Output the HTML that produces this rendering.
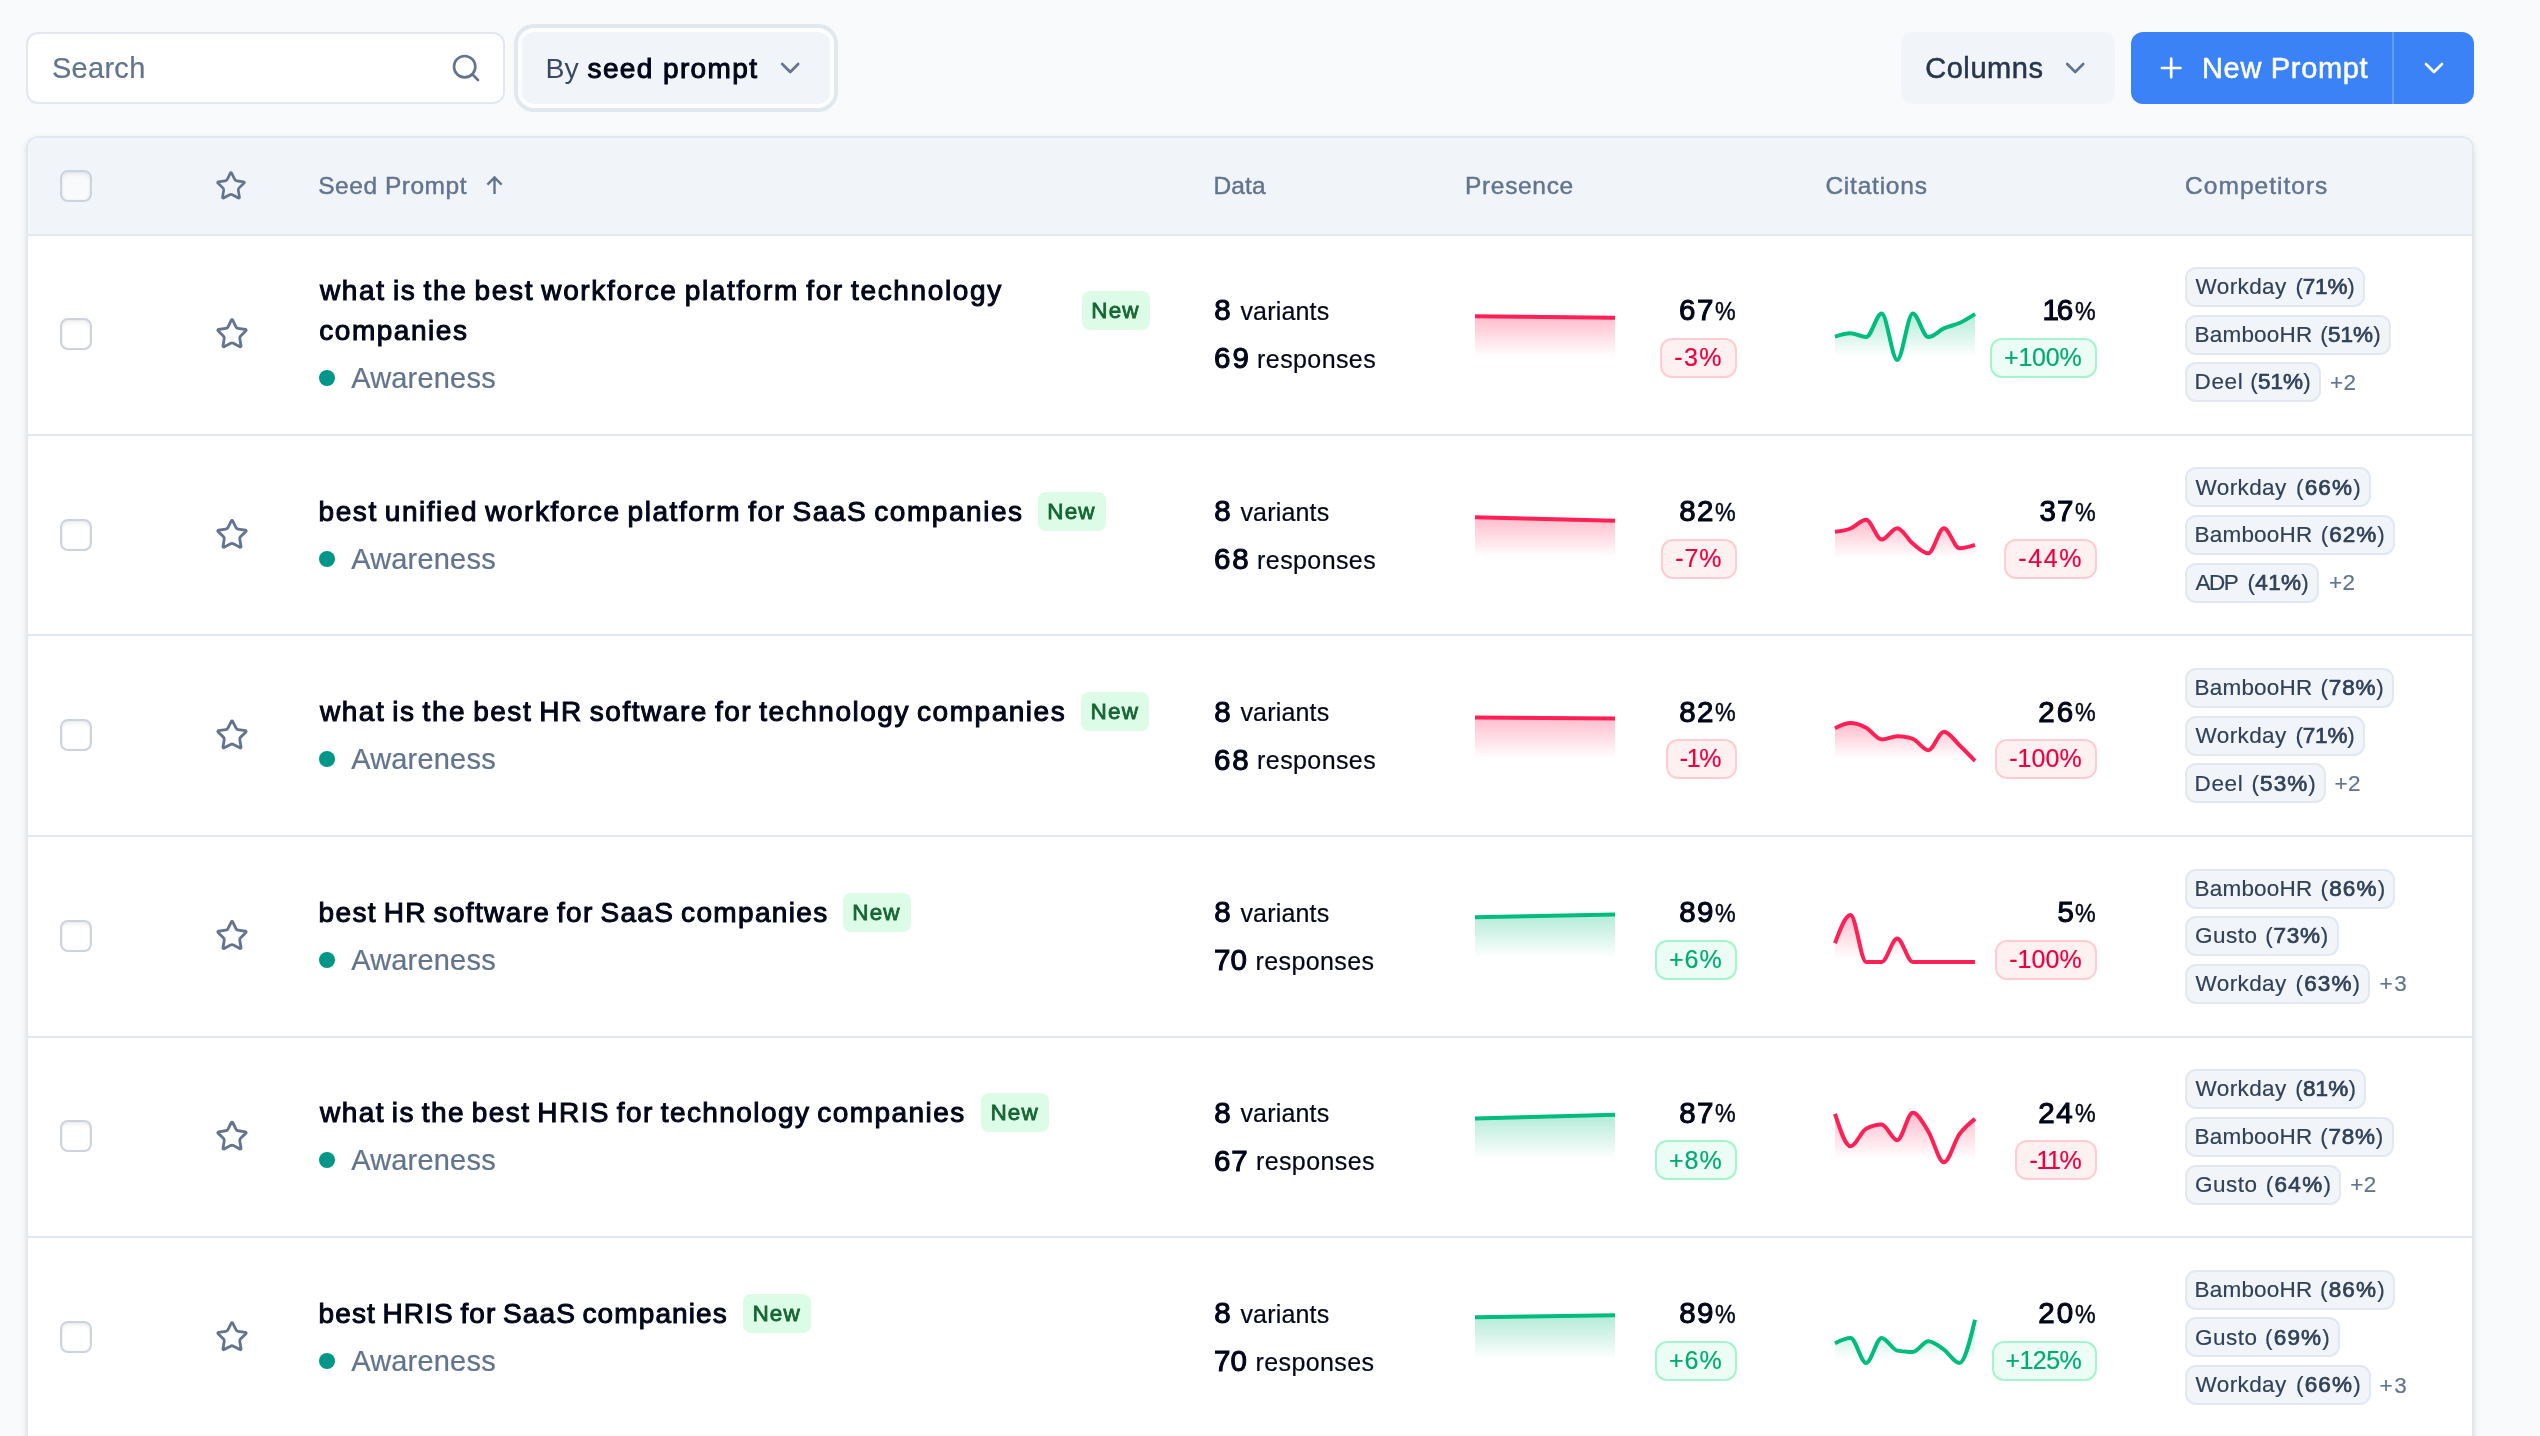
<!DOCTYPE html>
<html lang="en"><head><meta charset="utf-8"><title>Prompts</title>
<style>
html,body{margin:0;padding:0}
body{width:2540px;height:1436px;overflow:hidden;position:relative;background:#f8fafc;font-family:"Liberation Sans",sans-serif}
.t{position:absolute;white-space:nowrap;line-height:1;display:block}
.abs{position:absolute}
.box{position:absolute;box-sizing:border-box}
.cb{position:absolute;box-sizing:border-box;width:32px;height:32px;left:60px;border:2px solid #cdd3dc;border-radius:8px;background:#fff;box-shadow:inset 0 3px 4px -1px rgba(15,23,43,.08),inset 0 0 3px rgba(15,23,43,.05)}
.sep{position:absolute;left:28px;width:2444px;height:2px;background:#e2e8f0}
.new{position:absolute;box-sizing:border-box;width:68px;height:39px;border-radius:8px;background:#dcfce7}
.chip{position:absolute;box-sizing:border-box;left:2185px;height:40px;border:2px solid #e2e8f0;border-radius:11px;background:#f1f5f9}
.bd{position:absolute;box-sizing:border-box;height:40px;border-radius:12px;border:2px solid}
.bd.r{background:#fff1f2;border-color:#ffccd3}
.bd.g{background:#ecfdf5;border-color:#a4f4cf}
.dot{position:absolute;width:16px;height:16px;border-radius:50%;background:#009689;left:319px}
svg{position:absolute;left:0;top:0;overflow:visible}
#app{position:absolute;left:0;top:0;width:2540px;height:1436px;will-change:transform}
</style></head><body><div id="app">

<div class="box" style="left:26px;top:32px;width:479px;height:72px;border:2px solid #e2e8f0;border-radius:12px;background:#fff"></div>
<span class="t" style="left:51.98px;top:53.80px;font-size:29px;color:#62748e;letter-spacing:0.282px;-webkit-text-stroke:0.23px #62748e;">Search</span>
<div class="box" style="left:514px;top:24px;width:324px;height:88px;border-radius:20px;background:#e2e8f0"></div>
<div class="box" style="left:518px;top:28px;width:316px;height:80px;border-radius:16px;background:#fff"></div>
<div class="box" style="left:522px;top:32px;width:308px;height:72px;border-radius:12px;background:#f1f5f9"></div>
<span class="t" style="left:545.44px;top:54.05px;font-size:28.5px;color:#3b4a61;letter-spacing:0.120px;">By</span>
<span class="t" style="left:587.51px;top:54.80px;font-size:28px;color:#020618;letter-spacing:1.386px;-webkit-text-stroke:1.00px #020618;">seed prompt</span>
<div class="box" style="left:1901px;top:32px;width:214px;height:72px;border-radius:12px;background:#f1f5f9"></div>
<span class="t" style="left:1925.13px;top:53.80px;font-size:29px;color:#27364b;letter-spacing:0.584px;-webkit-text-stroke:0.52px #27364b;">Columns</span>
<div class="box" style="left:2131px;top:32px;width:343px;height:72px;border-radius:12px;background:#3b82f6"></div>
<div class="box" style="left:2392px;top:32px;width:2px;height:72px;background:rgba(255,255,255,.22)"></div>
<span class="t" style="left:2201.97px;top:53.80px;font-size:29px;color:#fff;letter-spacing:0.681px;-webkit-text-stroke:0.52px #fff;">New Prompt</span>
<div class="box" style="left:26px;top:136px;width:2448px;height:1400px;border:2px solid #e2e8f0;border-radius:12px;background:#fff;box-shadow:0 2px 6px rgba(0,0,0,.1),0 2px 4px -2px rgba(0,0,0,.1)"></div>
<div class="box" style="left:28px;top:138px;width:2444px;height:96px;border-radius:10px 10px 0 0;background:#f1f5f9"></div>
<div class="sep" style="top:234px"></div>
<div class="sep" style="top:434px"></div>
<div class="sep" style="top:634px"></div>
<div class="sep" style="top:835px"></div>
<div class="sep" style="top:1036px"></div>
<div class="sep" style="top:1236px"></div>
<div class="cb" style="top:170px;background:rgba(255,255,255,.5)"></div>
<span class="t" style="left:318.25px;top:173.55px;font-size:24.5px;color:#62748e;letter-spacing:0.521px;-webkit-text-stroke:0.44px #62748e;">Seed Prompt</span>
<span class="t" style="left:1213.40px;top:173.55px;font-size:24.5px;color:#62748e;letter-spacing:0.144px;-webkit-text-stroke:0.44px #62748e;">Data</span>
<span class="t" style="left:1465.00px;top:173.55px;font-size:24.5px;color:#62748e;letter-spacing:0.671px;-webkit-text-stroke:0.44px #62748e;">Presence</span>
<span class="t" style="left:1825.42px;top:173.55px;font-size:24.5px;color:#62748e;letter-spacing:0.772px;-webkit-text-stroke:0.44px #62748e;">Citations</span>
<span class="t" style="left:2185.12px;top:173.55px;font-size:24.5px;color:#62748e;letter-spacing:1.018px;-webkit-text-stroke:0.44px #62748e;">Competitors</span>
<div class="cb" style="top:318.00px"></div>
<span class="t" style="left:319.99px;top:276.80px;font-size:28px;color:#020618;letter-spacing:1.656px;-webkit-text-stroke:1.00px #020618;word-spacing:-2.3px;">what is the best workforce platform for technology</span>
<span class="t" style="left:319.25px;top:316.80px;font-size:28px;color:#020618;letter-spacing:1.539px;-webkit-text-stroke:1.00px #020618;word-spacing:-2.3px;">companies</span>
<div class="new" style="left:1082.0px;top:291.00px"></div>
<span class="t" style="left:1091.20px;top:299.55px;font-size:22.5px;color:#166534;letter-spacing:1.199px;-webkit-text-stroke:0.80px #166534;">New</span>
<div class="dot" style="top:370.00px"></div>
<span class="t" style="left:351.13px;top:363.80px;font-size:29px;color:#62748e;letter-spacing:0.196px;-webkit-text-stroke:0.23px #62748e;">Awareness</span>
<span class="t" style="left:1214.15px;top:295.05px;font-size:29.5px;color:#020618;letter-spacing:0.000px;-webkit-text-stroke:1.05px #020618;">8</span>
<span class="t" style="left:1240.43px;top:298.80px;font-size:25px;color:#020618;letter-spacing:0.182px;-webkit-text-stroke:0.20px #020618;">variants</span>
<span class="t" style="left:1213.99px;top:343.05px;font-size:29.5px;color:#020618;letter-spacing:2.005px;-webkit-text-stroke:1.05px #020618;">69</span>
<span class="t" style="left:1257.12px;top:346.80px;font-size:25px;color:#020618;letter-spacing:0.398px;-webkit-text-stroke:0.20px #020618;">responses</span>
<span class="t" style="left:1714.62px;top:298.80px;font-size:25px;color:#020618;letter-spacing:0.000px;-webkit-text-stroke:0.45px #020618;transform:scaleX(.93);transform-origin:0 0;">%</span>
<span class="t" style="left:2074.62px;top:298.80px;font-size:25px;color:#020618;letter-spacing:0.000px;-webkit-text-stroke:0.45px #020618;transform:scaleX(.93);transform-origin:0 0;">%</span>
<span class="t" style="left:1679.09px;top:295.05px;font-size:29.5px;color:#020618;letter-spacing:1.468px;-webkit-text-stroke:1.05px #020618;">67</span>
<span class="t" style="left:2042.56px;top:295.05px;font-size:29.5px;color:#020618;letter-spacing:-2.132px;-webkit-text-stroke:1.05px #020618;">16</span>
<div class="bd r" style="left:1660.0px;top:338.00px;width:77.0px"></div>
<span class="t" style="left:1674.16px;top:344.80px;font-size:25px;color:#ec003f;letter-spacing:1.492px;-webkit-text-stroke:0.20px #ec003f;">-3%</span>
<div class="bd g" style="left:1990.0px;top:338.00px;width:107.0px"></div>
<span class="t" style="left:2004.06px;top:344.80px;font-size:25px;color:#00ab73;letter-spacing:-0.228px;-webkit-text-stroke:0.20px #00ab73;">+100%</span>
<div class="chip" style="top:266.80px;width:180.0px"></div>
<span class="t" style="left:2195.62px;top:275.55px;font-size:22.5px;color:#314158;letter-spacing:0.373px;-webkit-text-stroke:0.18px #314158;">Workday</span>
<span class="t" style="left:2295.47px;top:275.55px;font-size:22.5px;color:#314158;letter-spacing:-0.199px;-webkit-text-stroke:0.18px #314158">(<span style="-webkit-text-stroke:0.72px #314158">71%</span>)</span>
<div class="chip" style="top:314.50px;width:206.0px"></div>
<span class="t" style="left:2194.49px;top:323.55px;font-size:22.5px;color:#314158;letter-spacing:0.215px;-webkit-text-stroke:0.18px #314158;">BambooHR</span>
<span class="t" style="left:2320.37px;top:323.55px;font-size:22.5px;color:#314158;letter-spacing:0.076px;-webkit-text-stroke:0.18px #314158">(<span style="-webkit-text-stroke:0.72px #314158">51%</span>)</span>
<div class="chip" style="top:362.20px;width:136.0px"></div>
<span class="t" style="left:2194.49px;top:370.55px;font-size:22.5px;color:#314158;letter-spacing:0.665px;-webkit-text-stroke:0.18px #314158;">Deel</span>
<span class="t" style="left:2250.37px;top:370.55px;font-size:22.5px;color:#314158;letter-spacing:0.076px;-webkit-text-stroke:0.18px #314158">(<span style="-webkit-text-stroke:0.72px #314158">51%</span>)</span>
<span class="t" style="left:2329.98px;top:371.55px;font-size:22.5px;color:#62748e;letter-spacing:0.321px;-webkit-text-stroke:0.18px #62748e;">+2</span>
<div class="cb" style="top:518.58px"></div>
<span class="t" style="left:318.60px;top:497.80px;font-size:28px;color:#020618;letter-spacing:1.553px;-webkit-text-stroke:1.00px #020618;word-spacing:-2.3px;">best unified workforce platform for SaaS companies</span>
<div class="new" style="left:1038.0px;top:491.58px"></div>
<span class="t" style="left:1047.20px;top:500.55px;font-size:22.5px;color:#166534;letter-spacing:1.199px;-webkit-text-stroke:0.80px #166534;">New</span>
<div class="dot" style="top:550.58px"></div>
<span class="t" style="left:351.13px;top:544.80px;font-size:29px;color:#62748e;letter-spacing:0.196px;-webkit-text-stroke:0.23px #62748e;">Awareness</span>
<span class="t" style="left:1214.15px;top:496.05px;font-size:29.5px;color:#020618;letter-spacing:0.000px;-webkit-text-stroke:1.05px #020618;">8</span>
<span class="t" style="left:1240.43px;top:499.80px;font-size:25px;color:#020618;letter-spacing:0.182px;-webkit-text-stroke:0.20px #020618;">variants</span>
<span class="t" style="left:1213.99px;top:544.05px;font-size:29.5px;color:#020618;letter-spacing:1.958px;-webkit-text-stroke:1.05px #020618;">68</span>
<span class="t" style="left:1257.12px;top:547.80px;font-size:25px;color:#020618;letter-spacing:0.398px;-webkit-text-stroke:0.20px #020618;">responses</span>
<span class="t" style="left:1714.62px;top:499.80px;font-size:25px;color:#020618;letter-spacing:0.000px;-webkit-text-stroke:0.45px #020618;transform:scaleX(.93);transform-origin:0 0;">%</span>
<span class="t" style="left:2074.62px;top:499.80px;font-size:25px;color:#020618;letter-spacing:0.000px;-webkit-text-stroke:0.45px #020618;transform:scaleX(.93);transform-origin:0 0;">%</span>
<span class="t" style="left:1679.25px;top:496.05px;font-size:29.5px;color:#020618;letter-spacing:1.311px;-webkit-text-stroke:1.05px #020618;">82</span>
<span class="t" style="left:2039.39px;top:496.05px;font-size:29.5px;color:#020618;letter-spacing:1.166px;-webkit-text-stroke:1.05px #020618;">37</span>
<div class="bd r" style="left:1661.0px;top:538.58px;width:76.0px"></div>
<span class="t" style="left:1675.16px;top:545.80px;font-size:25px;color:#ec003f;letter-spacing:0.992px;-webkit-text-stroke:0.20px #ec003f;">-7%</span>
<div class="bd r" style="left:2004.0px;top:538.58px;width:93.0px"></div>
<span class="t" style="left:2018.16px;top:545.80px;font-size:25px;color:#ec003f;letter-spacing:1.661px;-webkit-text-stroke:0.20px #ec003f;">-44%</span>
<div class="chip" style="top:467.38px;width:186.0px"></div>
<span class="t" style="left:2195.62px;top:476.55px;font-size:22.5px;color:#314158;letter-spacing:0.373px;-webkit-text-stroke:0.18px #314158;">Workday</span>
<span class="t" style="left:2295.97px;top:476.55px;font-size:22.5px;color:#314158;letter-spacing:1.176px;-webkit-text-stroke:0.18px #314158">(<span style="-webkit-text-stroke:0.72px #314158">66%</span>)</span>
<div class="chip" style="top:515.08px;width:210.0px"></div>
<span class="t" style="left:2194.49px;top:523.55px;font-size:22.5px;color:#314158;letter-spacing:0.215px;-webkit-text-stroke:0.18px #314158;">BambooHR</span>
<span class="t" style="left:2320.67px;top:523.55px;font-size:22.5px;color:#314158;letter-spacing:1.001px;-webkit-text-stroke:0.18px #314158">(<span style="-webkit-text-stroke:0.72px #314158">62%</span>)</span>
<div class="chip" style="top:562.78px;width:134.0px"></div>
<span class="t" style="left:2195.41px;top:571.55px;font-size:22.5px;color:#314158;letter-spacing:-1.401px;-webkit-text-stroke:0.18px #314158;">ADP</span>
<span class="t" style="left:2247.57px;top:571.55px;font-size:22.5px;color:#314158;letter-spacing:0.276px;-webkit-text-stroke:0.18px #314158">(<span style="-webkit-text-stroke:0.72px #314158">41%</span>)</span>
<span class="t" style="left:2328.98px;top:571.55px;font-size:22.5px;color:#62748e;letter-spacing:0.321px;-webkit-text-stroke:0.18px #62748e;">+2</span>
<div class="cb" style="top:719.16px"></div>
<span class="t" style="left:319.99px;top:697.80px;font-size:28px;color:#020618;letter-spacing:1.537px;-webkit-text-stroke:1.00px #020618;word-spacing:-2.3px;">what is the best HR software for technology companies</span>
<div class="new" style="left:1081.3px;top:692.16px"></div>
<span class="t" style="left:1090.50px;top:700.55px;font-size:22.5px;color:#166534;letter-spacing:1.199px;-webkit-text-stroke:0.80px #166534;">New</span>
<div class="dot" style="top:751.16px"></div>
<span class="t" style="left:351.13px;top:744.80px;font-size:29px;color:#62748e;letter-spacing:0.196px;-webkit-text-stroke:0.23px #62748e;">Awareness</span>
<span class="t" style="left:1214.15px;top:697.05px;font-size:29.5px;color:#020618;letter-spacing:0.000px;-webkit-text-stroke:1.05px #020618;">8</span>
<span class="t" style="left:1240.43px;top:699.80px;font-size:25px;color:#020618;letter-spacing:0.182px;-webkit-text-stroke:0.20px #020618;">variants</span>
<span class="t" style="left:1213.99px;top:745.05px;font-size:29.5px;color:#020618;letter-spacing:1.958px;-webkit-text-stroke:1.05px #020618;">68</span>
<span class="t" style="left:1257.12px;top:747.80px;font-size:25px;color:#020618;letter-spacing:0.398px;-webkit-text-stroke:0.20px #020618;">responses</span>
<span class="t" style="left:1714.62px;top:699.80px;font-size:25px;color:#020618;letter-spacing:0.000px;-webkit-text-stroke:0.45px #020618;transform:scaleX(.93);transform-origin:0 0;">%</span>
<span class="t" style="left:2074.62px;top:699.80px;font-size:25px;color:#020618;letter-spacing:0.000px;-webkit-text-stroke:0.45px #020618;transform:scaleX(.93);transform-origin:0 0;">%</span>
<span class="t" style="left:1679.25px;top:697.05px;font-size:29.5px;color:#020618;letter-spacing:1.311px;-webkit-text-stroke:1.05px #020618;">82</span>
<span class="t" style="left:2038.13px;top:697.05px;font-size:29.5px;color:#020618;letter-spacing:2.295px;-webkit-text-stroke:1.05px #020618;">26</span>
<div class="bd r" style="left:1665.5px;top:739.16px;width:71.5px"></div>
<span class="t" style="left:1679.66px;top:745.80px;font-size:25px;color:#ec003f;letter-spacing:-1.258px;-webkit-text-stroke:0.20px #ec003f;">-1%</span>
<div class="bd r" style="left:1995.0px;top:739.16px;width:102.0px"></div>
<span class="t" style="left:2009.16px;top:745.80px;font-size:25px;color:#ec003f;letter-spacing:0.057px;-webkit-text-stroke:0.20px #ec003f;">-100%</span>
<div class="chip" style="top:667.96px;width:209.0px"></div>
<span class="t" style="left:2194.49px;top:676.55px;font-size:22.5px;color:#314158;letter-spacing:0.215px;-webkit-text-stroke:0.18px #314158;">BambooHR</span>
<span class="t" style="left:2320.57px;top:676.55px;font-size:22.5px;color:#314158;letter-spacing:0.776px;-webkit-text-stroke:0.18px #314158">(<span style="-webkit-text-stroke:0.72px #314158">78%</span>)</span>
<div class="chip" style="top:715.66px;width:180.0px"></div>
<span class="t" style="left:2195.62px;top:724.55px;font-size:22.5px;color:#314158;letter-spacing:0.373px;-webkit-text-stroke:0.18px #314158;">Workday</span>
<span class="t" style="left:2295.47px;top:724.55px;font-size:22.5px;color:#314158;letter-spacing:-0.199px;-webkit-text-stroke:0.18px #314158">(<span style="-webkit-text-stroke:0.72px #314158">71%</span>)</span>
<div class="chip" style="top:763.36px;width:141.0px"></div>
<span class="t" style="left:2194.49px;top:772.55px;font-size:22.5px;color:#314158;letter-spacing:0.665px;-webkit-text-stroke:0.18px #314158;">Deel</span>
<span class="t" style="left:2251.57px;top:772.55px;font-size:22.5px;color:#314158;letter-spacing:1.026px;-webkit-text-stroke:0.18px #314158">(<span style="-webkit-text-stroke:0.72px #314158">53%</span>)</span>
<span class="t" style="left:2334.48px;top:772.55px;font-size:22.5px;color:#62748e;letter-spacing:0.321px;-webkit-text-stroke:0.18px #62748e;">+2</span>
<div class="cb" style="top:919.74px"></div>
<span class="t" style="left:318.60px;top:898.80px;font-size:28px;color:#020618;letter-spacing:1.336px;-webkit-text-stroke:1.00px #020618;word-spacing:-2.3px;">best HR software for SaaS companies</span>
<div class="new" style="left:843.0px;top:892.74px"></div>
<span class="t" style="left:852.20px;top:901.55px;font-size:22.5px;color:#166534;letter-spacing:1.199px;-webkit-text-stroke:0.80px #166534;">New</span>
<div class="dot" style="top:951.74px"></div>
<span class="t" style="left:351.13px;top:945.80px;font-size:29px;color:#62748e;letter-spacing:0.196px;-webkit-text-stroke:0.23px #62748e;">Awareness</span>
<span class="t" style="left:1214.15px;top:897.05px;font-size:29.5px;color:#020618;letter-spacing:0.000px;-webkit-text-stroke:1.05px #020618;">8</span>
<span class="t" style="left:1240.43px;top:900.80px;font-size:25px;color:#020618;letter-spacing:0.182px;-webkit-text-stroke:0.20px #020618;">variants</span>
<span class="t" style="left:1214.00px;top:945.05px;font-size:29.5px;color:#020618;letter-spacing:0.182px;-webkit-text-stroke:1.05px #020618;">70</span>
<span class="t" style="left:1255.52px;top:948.80px;font-size:25px;color:#020618;letter-spacing:0.398px;-webkit-text-stroke:0.20px #020618;">responses</span>
<span class="t" style="left:1714.62px;top:900.80px;font-size:25px;color:#020618;letter-spacing:0.000px;-webkit-text-stroke:0.45px #020618;transform:scaleX(.93);transform-origin:0 0;">%</span>
<span class="t" style="left:2074.62px;top:900.80px;font-size:25px;color:#020618;letter-spacing:0.000px;-webkit-text-stroke:0.45px #020618;transform:scaleX(.93);transform-origin:0 0;">%</span>
<span class="t" style="left:1679.25px;top:897.05px;font-size:29.5px;color:#020618;letter-spacing:1.248px;-webkit-text-stroke:1.05px #020618;">89</span>
<span class="t" style="left:2057.43px;top:897.05px;font-size:29.5px;color:#020618;letter-spacing:0.000px;-webkit-text-stroke:1.05px #020618;">5</span>
<div class="bd g" style="left:1655.0px;top:939.74px;width:82.0px"></div>
<span class="t" style="left:1669.06px;top:946.80px;font-size:25px;color:#00ab73;letter-spacing:0.925px;-webkit-text-stroke:0.20px #00ab73;">+6%</span>
<div class="bd r" style="left:1995.0px;top:939.74px;width:102.0px"></div>
<span class="t" style="left:2009.16px;top:946.80px;font-size:25px;color:#ec003f;letter-spacing:0.057px;-webkit-text-stroke:0.20px #ec003f;">-100%</span>
<div class="chip" style="top:868.54px;width:210.4px"></div>
<span class="t" style="left:2194.49px;top:877.55px;font-size:22.5px;color:#314158;letter-spacing:0.215px;-webkit-text-stroke:0.18px #314158;">BambooHR</span>
<span class="t" style="left:2320.47px;top:877.55px;font-size:22.5px;color:#314158;letter-spacing:1.151px;-webkit-text-stroke:0.18px #314158">(<span style="-webkit-text-stroke:0.72px #314158">86%</span>)</span>
<div class="chip" style="top:916.24px;width:153.6px"></div>
<span class="t" style="left:2195.10px;top:924.55px;font-size:22.5px;color:#314158;letter-spacing:0.479px;-webkit-text-stroke:0.18px #314158;">Gusto</span>
<span class="t" style="left:2265.27px;top:924.55px;font-size:22.5px;color:#314158;letter-spacing:0.751px;-webkit-text-stroke:0.18px #314158">(<span style="-webkit-text-stroke:0.72px #314158">73%</span>)</span>
<div class="chip" style="top:963.94px;width:185.4px"></div>
<span class="t" style="left:2195.62px;top:972.55px;font-size:22.5px;color:#314158;letter-spacing:0.373px;-webkit-text-stroke:0.18px #314158;">Workday</span>
<span class="t" style="left:2295.57px;top:972.55px;font-size:22.5px;color:#314158;letter-spacing:1.126px;-webkit-text-stroke:0.18px #314158">(<span style="-webkit-text-stroke:0.72px #314158">63%</span>)</span>
<span class="t" style="left:2379.48px;top:972.55px;font-size:22.5px;color:#62748e;letter-spacing:1.719px;-webkit-text-stroke:0.18px #62748e;">+3</span>
<div class="cb" style="top:1120.32px"></div>
<span class="t" style="left:319.99px;top:1098.80px;font-size:28px;color:#020618;letter-spacing:1.426px;-webkit-text-stroke:1.00px #020618;word-spacing:-2.3px;">what is the best HRIS for technology companies</span>
<div class="new" style="left:981.2px;top:1093.32px"></div>
<span class="t" style="left:990.40px;top:1101.55px;font-size:22.5px;color:#166534;letter-spacing:1.199px;-webkit-text-stroke:0.80px #166534;">New</span>
<div class="dot" style="top:1152.32px"></div>
<span class="t" style="left:351.13px;top:1145.80px;font-size:29px;color:#62748e;letter-spacing:0.196px;-webkit-text-stroke:0.23px #62748e;">Awareness</span>
<span class="t" style="left:1214.15px;top:1098.05px;font-size:29.5px;color:#020618;letter-spacing:0.000px;-webkit-text-stroke:1.05px #020618;">8</span>
<span class="t" style="left:1240.43px;top:1100.80px;font-size:25px;color:#020618;letter-spacing:0.182px;-webkit-text-stroke:0.20px #020618;">variants</span>
<span class="t" style="left:1213.99px;top:1146.05px;font-size:29.5px;color:#020618;letter-spacing:0.868px;-webkit-text-stroke:1.05px #020618;">67</span>
<span class="t" style="left:1255.92px;top:1148.80px;font-size:25px;color:#020618;letter-spacing:0.398px;-webkit-text-stroke:0.20px #020618;">responses</span>
<span class="t" style="left:1714.62px;top:1100.80px;font-size:25px;color:#020618;letter-spacing:0.000px;-webkit-text-stroke:0.45px #020618;transform:scaleX(.93);transform-origin:0 0;">%</span>
<span class="t" style="left:2074.62px;top:1100.80px;font-size:25px;color:#020618;letter-spacing:0.000px;-webkit-text-stroke:0.45px #020618;transform:scaleX(.93);transform-origin:0 0;">%</span>
<span class="t" style="left:1679.25px;top:1098.05px;font-size:29.5px;color:#020618;letter-spacing:1.311px;-webkit-text-stroke:1.05px #020618;">87</span>
<span class="t" style="left:2038.13px;top:1098.05px;font-size:29.5px;color:#020618;letter-spacing:1.841px;-webkit-text-stroke:1.05px #020618;">24</span>
<div class="bd g" style="left:1655.0px;top:1140.32px;width:82.0px"></div>
<span class="t" style="left:1669.06px;top:1147.80px;font-size:25px;color:#00ab73;letter-spacing:0.925px;-webkit-text-stroke:0.20px #00ab73;">+8%</span>
<div class="bd r" style="left:2015.4px;top:1140.32px;width:81.6px"></div>
<span class="t" style="left:2029.56px;top:1147.80px;font-size:25px;color:#ec003f;letter-spacing:-1.472px;-webkit-text-stroke:0.20px #ec003f;">-11%</span>
<div class="chip" style="top:1069.12px;width:181.2px"></div>
<span class="t" style="left:2195.62px;top:1077.55px;font-size:22.5px;color:#314158;letter-spacing:0.373px;-webkit-text-stroke:0.18px #314158;">Workday</span>
<span class="t" style="left:2295.27px;top:1077.55px;font-size:22.5px;color:#314158;letter-spacing:0.151px;-webkit-text-stroke:0.18px #314158">(<span style="-webkit-text-stroke:0.72px #314158">81%</span>)</span>
<div class="chip" style="top:1116.82px;width:208.6px"></div>
<span class="t" style="left:2194.49px;top:1125.55px;font-size:22.5px;color:#314158;letter-spacing:0.215px;-webkit-text-stroke:0.18px #314158;">BambooHR</span>
<span class="t" style="left:2320.17px;top:1125.55px;font-size:22.5px;color:#314158;letter-spacing:0.776px;-webkit-text-stroke:0.18px #314158">(<span style="-webkit-text-stroke:0.72px #314158">78%</span>)</span>
<div class="chip" style="top:1164.52px;width:156.2px"></div>
<span class="t" style="left:2195.10px;top:1173.55px;font-size:22.5px;color:#314158;letter-spacing:0.479px;-webkit-text-stroke:0.18px #314158;">Gusto</span>
<span class="t" style="left:2265.77px;top:1173.55px;font-size:22.5px;color:#314158;letter-spacing:1.276px;-webkit-text-stroke:0.18px #314158">(<span style="-webkit-text-stroke:0.72px #314158">64%</span>)</span>
<span class="t" style="left:2350.28px;top:1173.55px;font-size:22.5px;color:#62748e;letter-spacing:0.221px;-webkit-text-stroke:0.18px #62748e;">+2</span>
<div class="cb" style="top:1320.90px"></div>
<span class="t" style="left:318.60px;top:1299.80px;font-size:28px;color:#020618;letter-spacing:1.106px;-webkit-text-stroke:1.00px #020618;word-spacing:-2.3px;">best HRIS for SaaS companies</span>
<div class="new" style="left:743.2px;top:1293.90px"></div>
<span class="t" style="left:752.40px;top:1302.55px;font-size:22.5px;color:#166534;letter-spacing:1.199px;-webkit-text-stroke:0.80px #166534;">New</span>
<div class="dot" style="top:1352.90px"></div>
<span class="t" style="left:351.13px;top:1346.80px;font-size:29px;color:#62748e;letter-spacing:0.196px;-webkit-text-stroke:0.23px #62748e;">Awareness</span>
<span class="t" style="left:1214.15px;top:1298.05px;font-size:29.5px;color:#020618;letter-spacing:0.000px;-webkit-text-stroke:1.05px #020618;">8</span>
<span class="t" style="left:1240.43px;top:1301.80px;font-size:25px;color:#020618;letter-spacing:0.182px;-webkit-text-stroke:0.20px #020618;">variants</span>
<span class="t" style="left:1214.00px;top:1346.05px;font-size:29.5px;color:#020618;letter-spacing:0.182px;-webkit-text-stroke:1.05px #020618;">70</span>
<span class="t" style="left:1255.52px;top:1349.80px;font-size:25px;color:#020618;letter-spacing:0.398px;-webkit-text-stroke:0.20px #020618;">responses</span>
<span class="t" style="left:1714.62px;top:1301.80px;font-size:25px;color:#020618;letter-spacing:0.000px;-webkit-text-stroke:0.45px #020618;transform:scaleX(.93);transform-origin:0 0;">%</span>
<span class="t" style="left:2074.62px;top:1301.80px;font-size:25px;color:#020618;letter-spacing:0.000px;-webkit-text-stroke:0.45px #020618;transform:scaleX(.93);transform-origin:0 0;">%</span>
<span class="t" style="left:1679.25px;top:1298.05px;font-size:29.5px;color:#020618;letter-spacing:1.248px;-webkit-text-stroke:1.05px #020618;">89</span>
<span class="t" style="left:2038.13px;top:1298.05px;font-size:29.5px;color:#020618;letter-spacing:2.150px;-webkit-text-stroke:1.05px #020618;">20</span>
<div class="bd g" style="left:1655.0px;top:1340.90px;width:82.0px"></div>
<span class="t" style="left:1669.06px;top:1347.80px;font-size:25px;color:#00ab73;letter-spacing:0.925px;-webkit-text-stroke:0.20px #00ab73;">+6%</span>
<div class="bd g" style="left:1991.5px;top:1340.90px;width:105.5px"></div>
<span class="t" style="left:2005.56px;top:1347.80px;font-size:25px;color:#00ab73;letter-spacing:-0.603px;-webkit-text-stroke:0.20px #00ab73;">+125%</span>
<div class="chip" style="top:1269.70px;width:209.9px"></div>
<span class="t" style="left:2194.49px;top:1278.55px;font-size:22.5px;color:#314158;letter-spacing:0.215px;-webkit-text-stroke:0.18px #314158;">BambooHR</span>
<span class="t" style="left:2319.97px;top:1278.55px;font-size:22.5px;color:#314158;letter-spacing:1.151px;-webkit-text-stroke:0.18px #314158">(<span style="-webkit-text-stroke:0.72px #314158">86%</span>)</span>
<div class="chip" style="top:1317.40px;width:155.1px"></div>
<span class="t" style="left:2195.10px;top:1326.55px;font-size:22.5px;color:#314158;letter-spacing:0.479px;-webkit-text-stroke:0.18px #314158;">Gusto</span>
<span class="t" style="left:2265.07px;top:1326.55px;font-size:22.5px;color:#314158;letter-spacing:1.176px;-webkit-text-stroke:0.18px #314158">(<span style="-webkit-text-stroke:0.72px #314158">69%</span>)</span>
<div class="chip" style="top:1365.10px;width:186.0px"></div>
<span class="t" style="left:2195.62px;top:1373.55px;font-size:22.5px;color:#314158;letter-spacing:0.373px;-webkit-text-stroke:0.18px #314158;">Workday</span>
<span class="t" style="left:2295.97px;top:1373.55px;font-size:22.5px;color:#314158;letter-spacing:1.176px;-webkit-text-stroke:0.18px #314158">(<span style="-webkit-text-stroke:0.72px #314158">66%</span>)</span>
<span class="t" style="left:2379.48px;top:1374.55px;font-size:22.5px;color:#62748e;letter-spacing:1.719px;-webkit-text-stroke:0.18px #62748e;">+3</span>
<svg width="2540" height="1436" viewBox="0 0 2540 1436">
<defs><linearGradient id="g1" x1="0" y1="0" x2="0" y2="1"><stop offset="0" stop-color="#ff2056" stop-opacity=".3"/><stop offset=".93" stop-color="#ff2056" stop-opacity="0"/></linearGradient></defs>
<path d="M1475.00,316.20L1615.00,317.80L1615.00,360.00L1475.00,360.00Z" fill="url(#g1)"/>
<path d="M1475.00,316.20L1615.00,317.80" fill="none" stroke="#ff2056" stroke-width="4"/>
<defs><linearGradient id="g2" x1="0" y1="0" x2="0" y2="1"><stop offset="0" stop-color="#00bc7d" stop-opacity=".3"/><stop offset=".93" stop-color="#00bc7d" stop-opacity="0"/></linearGradient></defs>
<path d="M1835.00,336.60C1840.19,334.95,1845.37,333.30,1850.56,333.30C1855.74,333.30,1860.93,337.10,1866.11,337.10C1871.30,337.10,1876.48,313.60,1881.67,313.60C1886.85,313.60,1892.04,360.00,1897.22,360.00C1902.41,360.00,1907.59,313.60,1912.78,313.60C1917.96,313.60,1923.15,337.10,1928.33,337.10C1933.52,337.10,1938.70,330.75,1943.89,328.40C1949.07,326.05,1954.26,325.40,1959.44,323.00C1964.63,320.60,1969.81,317.30,1975.00,314.00L1975.00,360.00L1835.00,360.00Z" fill="url(#g2)"/>
<path d="M1835.00,336.60C1840.19,334.95,1845.37,333.30,1850.56,333.30C1855.74,333.30,1860.93,337.10,1866.11,337.10C1871.30,337.10,1876.48,313.60,1881.67,313.60C1886.85,313.60,1892.04,360.00,1897.22,360.00C1902.41,360.00,1907.59,313.60,1912.78,313.60C1917.96,313.60,1923.15,337.10,1928.33,337.10C1933.52,337.10,1938.70,330.75,1943.89,328.40C1949.07,326.05,1954.26,325.40,1959.44,323.00C1964.63,320.60,1969.81,317.30,1975.00,314.00" fill="none" stroke="#00bc7d" stroke-width="4"/>
<defs><linearGradient id="g3" x1="0" y1="0" x2="0" y2="1"><stop offset="0" stop-color="#ff2056" stop-opacity=".3"/><stop offset=".93" stop-color="#ff2056" stop-opacity="0"/></linearGradient></defs>
<path d="M1475.00,517.28L1615.00,520.78L1615.00,560.58L1475.00,560.58Z" fill="url(#g3)"/>
<path d="M1475.00,517.28L1615.00,520.78" fill="none" stroke="#ff2056" stroke-width="4"/>
<defs><linearGradient id="g4" x1="0" y1="0" x2="0" y2="1"><stop offset="0" stop-color="#ff2056" stop-opacity=".3"/><stop offset=".93" stop-color="#ff2056" stop-opacity="0"/></linearGradient></defs>
<path d="M1835.00,531.80C1840.19,531.15,1845.37,530.50,1850.56,528.50C1855.74,526.50,1860.93,519.80,1866.11,519.80C1871.30,519.80,1876.48,539.50,1881.67,539.50C1886.85,539.50,1892.04,528.20,1897.22,528.20C1902.41,528.20,1907.59,539.32,1912.78,543.50C1917.96,547.68,1923.15,553.30,1928.33,553.30C1933.52,553.30,1938.70,528.20,1943.89,528.20C1949.07,528.20,1954.26,548.20,1959.44,548.20C1964.63,548.20,1969.81,546.55,1975.00,544.90L1975.00,560.58L1835.00,560.58Z" fill="url(#g4)"/>
<path d="M1835.00,531.80C1840.19,531.15,1845.37,530.50,1850.56,528.50C1855.74,526.50,1860.93,519.80,1866.11,519.80C1871.30,519.80,1876.48,539.50,1881.67,539.50C1886.85,539.50,1892.04,528.20,1897.22,528.20C1902.41,528.20,1907.59,539.32,1912.78,543.50C1917.96,547.68,1923.15,553.30,1928.33,553.30C1933.52,553.30,1938.70,528.20,1943.89,528.20C1949.07,528.20,1954.26,548.20,1959.44,548.20C1964.63,548.20,1969.81,546.55,1975.00,544.90" fill="none" stroke="#ff2056" stroke-width="4"/>
<defs><linearGradient id="g5" x1="0" y1="0" x2="0" y2="1"><stop offset="0" stop-color="#ff2056" stop-opacity=".3"/><stop offset=".93" stop-color="#ff2056" stop-opacity="0"/></linearGradient></defs>
<path d="M1475.00,717.46L1615.00,718.46L1615.00,761.16L1475.00,761.16Z" fill="url(#g5)"/>
<path d="M1475.00,717.46L1615.00,718.46" fill="none" stroke="#ff2056" stroke-width="4"/>
<defs><linearGradient id="g6" x1="0" y1="0" x2="0" y2="1"><stop offset="0" stop-color="#ff2056" stop-opacity=".3"/><stop offset=".93" stop-color="#ff2056" stop-opacity="0"/></linearGradient></defs>
<path d="M1835.00,728.20C1840.19,725.65,1845.37,723.10,1850.56,723.10C1855.74,723.10,1860.93,725.08,1866.11,727.80C1871.30,730.52,1876.48,739.40,1881.67,739.40C1886.85,739.40,1892.04,736.20,1897.22,736.20C1902.41,736.20,1907.59,737.10,1912.78,738.90C1917.96,740.70,1923.15,750.20,1928.33,750.20C1933.52,750.20,1938.70,731.80,1943.89,731.80C1949.07,731.80,1954.26,740.33,1959.44,745.20C1964.63,750.07,1969.81,755.53,1975.00,761.00L1975.00,761.16L1835.00,761.16Z" fill="url(#g6)"/>
<path d="M1835.00,728.20C1840.19,725.65,1845.37,723.10,1850.56,723.10C1855.74,723.10,1860.93,725.08,1866.11,727.80C1871.30,730.52,1876.48,739.40,1881.67,739.40C1886.85,739.40,1892.04,736.20,1897.22,736.20C1902.41,736.20,1907.59,737.10,1912.78,738.90C1917.96,740.70,1923.15,750.20,1928.33,750.20C1933.52,750.20,1938.70,731.80,1943.89,731.80C1949.07,731.80,1954.26,740.33,1959.44,745.20C1964.63,750.07,1969.81,755.53,1975.00,761.00" fill="none" stroke="#ff2056" stroke-width="4"/>
<defs><linearGradient id="g7" x1="0" y1="0" x2="0" y2="1"><stop offset="0" stop-color="#00bc7d" stop-opacity=".3"/><stop offset=".93" stop-color="#00bc7d" stop-opacity="0"/></linearGradient></defs>
<path d="M1475.00,917.14L1615.00,914.44L1615.00,961.74L1475.00,961.74Z" fill="url(#g7)"/>
<path d="M1475.00,917.14L1615.00,914.44" fill="none" stroke="#00bc7d" stroke-width="4"/>
<defs><linearGradient id="g8" x1="0" y1="0" x2="0" y2="1"><stop offset="0" stop-color="#ff2056" stop-opacity=".3"/><stop offset=".93" stop-color="#ff2056" stop-opacity="0"/></linearGradient></defs>
<path d="M1835.00,943.20C1840.19,929.15,1845.37,915.10,1850.56,915.10C1855.74,915.10,1860.93,961.95,1866.11,961.95C1871.30,961.95,1876.48,961.95,1881.67,961.95C1886.85,961.95,1892.04,938.50,1897.22,938.50C1902.41,938.50,1907.59,961.95,1912.78,961.95C1917.96,961.95,1923.15,961.95,1928.33,961.95C1933.52,961.95,1938.70,961.95,1943.89,961.95C1949.07,961.95,1954.26,961.95,1959.44,961.95C1964.63,961.95,1969.81,961.95,1975.00,961.95L1975.00,961.74L1835.00,961.74Z" fill="url(#g8)"/>
<path d="M1835.00,943.20C1840.19,929.15,1845.37,915.10,1850.56,915.10C1855.74,915.10,1860.93,961.95,1866.11,961.95C1871.30,961.95,1876.48,961.95,1881.67,961.95C1886.85,961.95,1892.04,938.50,1897.22,938.50C1902.41,938.50,1907.59,961.95,1912.78,961.95C1917.96,961.95,1923.15,961.95,1928.33,961.95C1933.52,961.95,1938.70,961.95,1943.89,961.95C1949.07,961.95,1954.26,961.95,1959.44,961.95C1964.63,961.95,1969.81,961.95,1975.00,961.95" fill="none" stroke="#ff2056" stroke-width="4"/>
<defs><linearGradient id="g9" x1="0" y1="0" x2="0" y2="1"><stop offset="0" stop-color="#00bc7d" stop-opacity=".3"/><stop offset=".93" stop-color="#00bc7d" stop-opacity="0"/></linearGradient></defs>
<path d="M1475.00,1118.42L1615.00,1114.72L1615.00,1162.32L1475.00,1162.32Z" fill="url(#g9)"/>
<path d="M1475.00,1118.42L1615.00,1114.72" fill="none" stroke="#00bc7d" stroke-width="4"/>
<defs><linearGradient id="g10" x1="0" y1="0" x2="0" y2="1"><stop offset="0" stop-color="#ff2056" stop-opacity=".3"/><stop offset=".93" stop-color="#ff2056" stop-opacity="0"/></linearGradient></defs>
<path d="M1835.00,1113.80C1840.19,1130.00,1845.37,1146.20,1850.56,1146.20C1855.74,1146.20,1860.93,1131.67,1866.11,1128.80C1871.30,1125.93,1876.48,1124.50,1881.67,1124.50C1886.85,1124.50,1892.04,1140.20,1897.22,1140.20C1902.41,1140.20,1907.59,1112.80,1912.78,1112.80C1917.96,1112.80,1923.15,1123.25,1928.33,1131.50C1933.52,1139.75,1938.70,1162.30,1943.89,1162.30C1949.07,1162.30,1954.26,1141.45,1959.44,1134.20C1964.63,1126.95,1969.81,1122.88,1975.00,1118.80L1975.00,1162.32L1835.00,1162.32Z" fill="url(#g10)"/>
<path d="M1835.00,1113.80C1840.19,1130.00,1845.37,1146.20,1850.56,1146.20C1855.74,1146.20,1860.93,1131.67,1866.11,1128.80C1871.30,1125.93,1876.48,1124.50,1881.67,1124.50C1886.85,1124.50,1892.04,1140.20,1897.22,1140.20C1902.41,1140.20,1907.59,1112.80,1912.78,1112.80C1917.96,1112.80,1923.15,1123.25,1928.33,1131.50C1933.52,1139.75,1938.70,1162.30,1943.89,1162.30C1949.07,1162.30,1954.26,1141.45,1959.44,1134.20C1964.63,1126.95,1969.81,1122.88,1975.00,1118.80" fill="none" stroke="#ff2056" stroke-width="4"/>
<defs><linearGradient id="g11" x1="0" y1="0" x2="0" y2="1"><stop offset="0" stop-color="#00bc7d" stop-opacity=".3"/><stop offset=".93" stop-color="#00bc7d" stop-opacity="0"/></linearGradient></defs>
<path d="M1475.00,1317.30L1615.00,1315.20L1615.00,1362.90L1475.00,1362.90Z" fill="url(#g11)"/>
<path d="M1475.00,1317.30L1615.00,1315.20" fill="none" stroke="#00bc7d" stroke-width="4"/>
<defs><linearGradient id="g12" x1="0" y1="0" x2="0" y2="1"><stop offset="0" stop-color="#00bc7d" stop-opacity=".3"/><stop offset=".93" stop-color="#00bc7d" stop-opacity="0"/></linearGradient></defs>
<path d="M1835.00,1343.20C1840.19,1340.55,1845.37,1337.90,1850.56,1337.90C1855.74,1337.90,1860.93,1363.00,1866.11,1363.00C1871.30,1363.00,1876.48,1337.90,1881.67,1337.90C1886.85,1337.90,1892.04,1349.73,1897.22,1350.60C1902.41,1351.47,1907.59,1351.90,1912.78,1351.90C1917.96,1351.90,1923.15,1341.20,1928.33,1341.20C1933.52,1341.20,1938.70,1345.97,1943.89,1349.60C1949.07,1353.23,1954.26,1363.00,1959.44,1363.00C1964.63,1363.00,1969.81,1341.40,1975.00,1319.80L1975.00,1362.90L1835.00,1362.90Z" fill="url(#g12)"/>
<path d="M1835.00,1343.20C1840.19,1340.55,1845.37,1337.90,1850.56,1337.90C1855.74,1337.90,1860.93,1363.00,1866.11,1363.00C1871.30,1363.00,1876.48,1337.90,1881.67,1337.90C1886.85,1337.90,1892.04,1349.73,1897.22,1350.60C1902.41,1351.47,1907.59,1351.90,1912.78,1351.90C1917.96,1351.90,1923.15,1341.20,1928.33,1341.20C1933.52,1341.20,1938.70,1345.97,1943.89,1349.60C1949.07,1353.23,1954.26,1363.00,1959.44,1363.00C1964.63,1363.00,1969.81,1341.40,1975.00,1319.80" fill="none" stroke="#00bc7d" stroke-width="4"/>
<g transform="translate(215,316.93) scale(1.4167)" fill="none" stroke="#62748e" stroke-width="2" stroke-linecap="round" stroke-linejoin="round"><path d="M11.525 2.295a.53.53 0 0 1 .95 0l2.31 4.679a2.123 2.123 0 0 0 1.595 1.16l5.166.756a.53.53 0 0 1 .294.904l-3.736 3.638a2.123 2.123 0 0 0-.611 1.878l.882 5.14a.53.53 0 0 1-.771.56l-4.618-2.428a2.122 2.122 0 0 0-1.973 0L6.396 21.01a.53.53 0 0 1-.77-.56l.881-5.139a2.122 2.122 0 0 0-.611-1.879L2.16 9.795a.53.53 0 0 1 .294-.906l5.165-.755a2.122 2.122 0 0 0 1.597-1.16z"/></g>
<g transform="translate(215,517.51) scale(1.4167)" fill="none" stroke="#62748e" stroke-width="2" stroke-linecap="round" stroke-linejoin="round"><path d="M11.525 2.295a.53.53 0 0 1 .95 0l2.31 4.679a2.123 2.123 0 0 0 1.595 1.16l5.166.756a.53.53 0 0 1 .294.904l-3.736 3.638a2.123 2.123 0 0 0-.611 1.878l.882 5.14a.53.53 0 0 1-.771.56l-4.618-2.428a2.122 2.122 0 0 0-1.973 0L6.396 21.01a.53.53 0 0 1-.77-.56l.881-5.139a2.122 2.122 0 0 0-.611-1.879L2.16 9.795a.53.53 0 0 1 .294-.906l5.165-.755a2.122 2.122 0 0 0 1.597-1.16z"/></g>
<g transform="translate(215,718.09) scale(1.4167)" fill="none" stroke="#62748e" stroke-width="2" stroke-linecap="round" stroke-linejoin="round"><path d="M11.525 2.295a.53.53 0 0 1 .95 0l2.31 4.679a2.123 2.123 0 0 0 1.595 1.16l5.166.756a.53.53 0 0 1 .294.904l-3.736 3.638a2.123 2.123 0 0 0-.611 1.878l.882 5.14a.53.53 0 0 1-.771.56l-4.618-2.428a2.122 2.122 0 0 0-1.973 0L6.396 21.01a.53.53 0 0 1-.77-.56l.881-5.139a2.122 2.122 0 0 0-.611-1.879L2.16 9.795a.53.53 0 0 1 .294-.906l5.165-.755a2.122 2.122 0 0 0 1.597-1.16z"/></g>
<g transform="translate(215,918.67) scale(1.4167)" fill="none" stroke="#62748e" stroke-width="2" stroke-linecap="round" stroke-linejoin="round"><path d="M11.525 2.295a.53.53 0 0 1 .95 0l2.31 4.679a2.123 2.123 0 0 0 1.595 1.16l5.166.756a.53.53 0 0 1 .294.904l-3.736 3.638a2.123 2.123 0 0 0-.611 1.878l.882 5.14a.53.53 0 0 1-.771.56l-4.618-2.428a2.122 2.122 0 0 0-1.973 0L6.396 21.01a.53.53 0 0 1-.77-.56l.881-5.139a2.122 2.122 0 0 0-.611-1.879L2.16 9.795a.53.53 0 0 1 .294-.906l5.165-.755a2.122 2.122 0 0 0 1.597-1.16z"/></g>
<g transform="translate(215,1119.25) scale(1.4167)" fill="none" stroke="#62748e" stroke-width="2" stroke-linecap="round" stroke-linejoin="round"><path d="M11.525 2.295a.53.53 0 0 1 .95 0l2.31 4.679a2.123 2.123 0 0 0 1.595 1.16l5.166.756a.53.53 0 0 1 .294.904l-3.736 3.638a2.123 2.123 0 0 0-.611 1.878l.882 5.14a.53.53 0 0 1-.771.56l-4.618-2.428a2.122 2.122 0 0 0-1.973 0L6.396 21.01a.53.53 0 0 1-.77-.56l.881-5.139a2.122 2.122 0 0 0-.611-1.879L2.16 9.795a.53.53 0 0 1 .294-.906l5.165-.755a2.122 2.122 0 0 0 1.597-1.16z"/></g>
<g transform="translate(215,1319.83) scale(1.4167)" fill="none" stroke="#62748e" stroke-width="2" stroke-linecap="round" stroke-linejoin="round"><path d="M11.525 2.295a.53.53 0 0 1 .95 0l2.31 4.679a2.123 2.123 0 0 0 1.595 1.16l5.166.756a.53.53 0 0 1 .294.904l-3.736 3.638a2.123 2.123 0 0 0-.611 1.878l.882 5.14a.53.53 0 0 1-.771.56l-4.618-2.428a2.122 2.122 0 0 0-1.973 0L6.396 21.01a.53.53 0 0 1-.77-.56l.881-5.139a2.122 2.122 0 0 0-.611-1.879L2.16 9.795a.53.53 0 0 1 .294-.906l5.165-.755a2.122 2.122 0 0 0 1.597-1.16z"/></g>
<g transform="translate(215,170) scale(1.3333)" fill="none" stroke="#62748e" stroke-width="2" stroke-linecap="round" stroke-linejoin="round"><path d="M11.525 2.295a.53.53 0 0 1 .95 0l2.31 4.679a2.123 2.123 0 0 0 1.595 1.16l5.166.756a.53.53 0 0 1 .294.904l-3.736 3.638a2.123 2.123 0 0 0-.611 1.878l.882 5.14a.53.53 0 0 1-.771.56l-4.618-2.428a2.122 2.122 0 0 0-1.973 0L6.396 21.01a.53.53 0 0 1-.77-.56l.881-5.139a2.122 2.122 0 0 0-.611-1.879L2.16 9.795a.53.53 0 0 1 .294-.906l5.165-.755a2.122 2.122 0 0 0 1.597-1.16z"/></g>
<path d="M494.5 176.6V194M487.4 184.6L494.5 177.4L501.6 184.6" fill="none" stroke="#62748e" stroke-width="2.4"/>
<g transform="translate(450,52) scale(1.3333)" fill="none" stroke="#62748e" stroke-width="2" stroke-linecap="round" stroke-linejoin="round"><circle cx="11" cy="11" r="8"/><path d="m21 21-4.3-4.3"/></g>
<path d="M782.2 64l8 8 8-8" fill="none" stroke="#62748e" stroke-width="2.67" stroke-linecap="round" stroke-linejoin="round"/>
<path d="M2067.2 64l8 8 8-8" fill="none" stroke="#62748e" stroke-width="2.67" stroke-linecap="round" stroke-linejoin="round"/>
<path d="M2426 64l8 8 8-8" fill="none" stroke="#fff" stroke-width="2.67" stroke-linecap="round" stroke-linejoin="round"/>
<path d="M2161.9 68h18.6M2171.2 58.7v18.6" fill="none" stroke="#fff" stroke-width="2.67" stroke-linecap="round"/>
</svg>
</div></body></html>
